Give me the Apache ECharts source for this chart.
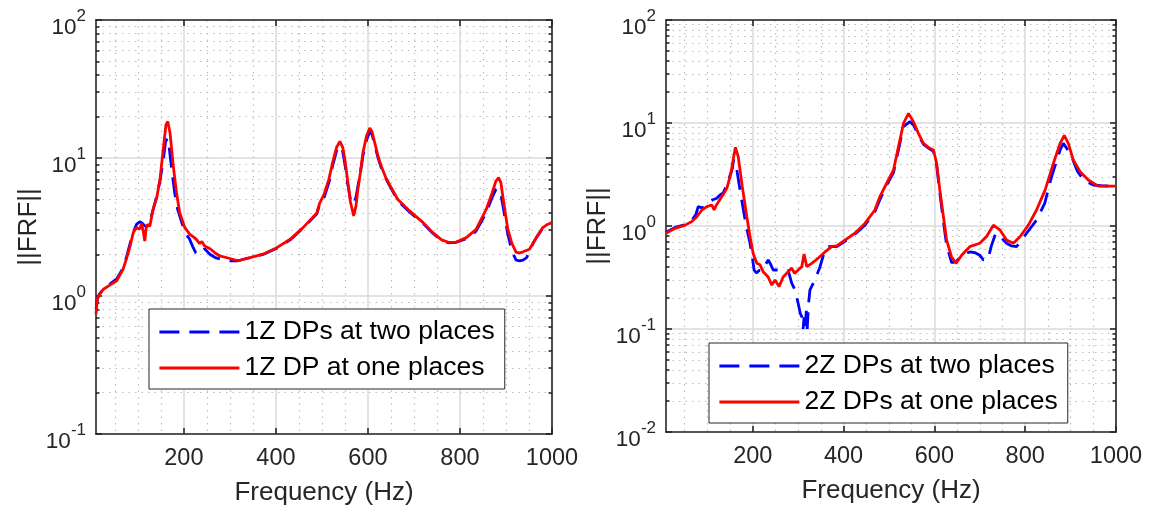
<!DOCTYPE html>
<html>
<head>
<meta charset="utf-8">
<script src="https://cdn.jsdelivr.net/npm/echarts@6/dist/echarts.min.js"></script>
<style>
  html, body { margin: 0; padding: 0; background: #ffffff; }
  #chart { width: 1149px; height: 514px; }
</style>
</head>
<body>
<div id="chart"></div>
<script>
// ---- FRF magnitude data, 1Z panel ----
const freq1Two = [9,12,16,25,39,54,68,75,83,90,97,104,110,116,121,126,133,141,148,155,160,164,168,174,180,186,191,198,205,212,220,226,232,238,245,257,268,280,300,318,344,372,402,431,459,489,495,505,515,524,532,539,545,550,556,562,568,574,578,584,589,597,604,609,615,622,629,638,647,665,691,720,741,760,775,792,814,835,857,870,878,883,889,893,899,904,913,922,930,937,945,951,960,966,980,990,1000];
const frf1Two = [0.8,0.95,1.03,1.12,1.22,1.33,1.6,1.9,2.4,2.9,3.3,3.45,3.35,3.2,3.4,3.5,4.2,5.3,6.8,9.5,13.0,13.9,12.0,8.0,5.6,4.3,3.8,3.2,2.8,2.6,2.25,2.05,2.0,2.1,2.2,2.0,1.9,1.85,1.8,1.8,1.9,2.0,2.22,2.55,3.1,3.95,4.6,5.2,6.6,9.0,11.3,12.3,11.2,9.0,6.5,5.0,4.6,5.2,6.2,8.0,10.3,13.5,15.5,14.8,12.3,10.0,8.5,7.2,6.3,4.9,4.05,3.35,2.85,2.52,2.43,2.45,2.6,2.95,4.0,5.2,5.9,6.0,5.4,4.6,3.5,2.8,2.1,1.82,1.8,1.82,1.9,2.1,2.45,2.65,3.1,3.3,3.4];

const freq1One = [9,12,16,25,39,54,68,75,83,90,97,104,108,112,115,118,121,126,133,141,148,155,161,165,170,177,184,191,202,213,222,228,234,239,245,257,268,278,300,318,344,372,402,431,459,489,495,505,515,524,532,539,545,550,556,562,569,574,578,584,589,597,604,609,615,622,629,638,647,665,691,720,741,760,775,792,814,835,857,870,878,884,889,893,899,904,913,922,930,937,951,960,966,980,990,1000];
const frf1One = [0.74,0.95,1.02,1.12,1.2,1.29,1.57,1.85,2.3,2.88,3.13,3.05,3.36,2.9,2.5,3.1,3.3,3.2,4.24,5.15,6.98,11.5,17.4,18.4,15.1,8.7,5.6,4.0,3.13,2.8,2.66,2.55,2.4,2.48,2.3,2.2,2.05,1.95,1.87,1.8,1.9,2.01,2.24,2.58,3.13,4.0,4.7,5.5,7.0,9.5,12.0,13.2,12.0,9.7,6.8,4.8,3.8,4.5,5.9,8.0,10.9,14.5,16.5,15.5,12.8,10.3,8.7,7.3,6.4,5.0,4.12,3.4,2.88,2.55,2.45,2.46,2.65,3.04,4.24,5.6,6.8,7.2,6.6,5.3,3.9,3.04,2.4,2.07,2.05,2.09,2.18,2.45,2.65,3.13,3.3,3.4];

// ---- FRF magnitude data, 2Z panel ----
const freq2Two = [9,29,51,65,75,80,88,95,105,112,120,128,135,143,150,155,158,162,165,172,182,188,194,199,203,208,214,222,228,234,240,245,255,265,278,286,293,300,305,308,311,313,315,318,320,323,326,337,348,359,367,385,403,425,447,469,480,495,510,521,532,546,554,565,576,587,598,605,612,620,627,638,648,660,678,690,700,708,718,725,735,744,759,770,781,803,825,843,858,877,884,890,900,915,930,950,970,1000];
const frf2Two = [0.87,0.97,1.03,1.12,1.3,1.54,1.5,1.55,1.7,1.8,1.85,2.0,2.1,2.5,3.1,3.6,4.4,4.0,3.5,2.24,1.23,0.9,0.68,0.5,0.374,0.35,0.37,0.37,0.42,0.468,0.42,0.374,0.374,0.38,0.37,0.278,0.24,0.178,0.14,0.132,0.1,0.13,0.098,0.15,0.1,0.178,0.24,0.3,0.4,0.585,0.63,0.63,0.71,0.83,1.02,1.38,1.8,2.5,3.3,5.5,9.2,10.3,9.6,7.6,6.2,5.7,5.3,3.9,2.1,1.1,0.65,0.44,0.45,0.52,0.56,0.55,0.52,0.47,0.47,0.63,0.85,0.8,0.68,0.64,0.63,0.85,1.14,1.66,3.0,5.47,6.35,5.8,5.0,3.4,2.75,2.5,2.45,2.44];

const freq2One = [9,29,51,65,77,88,99,110,115,120,132,143,152,158,162,168,177,187,194,201,209,216,223,234,242,249,258,267,278,286,292,300,308,313,319,330,344,359,374,385,403,425,447,469,480,495,510,521,532,543,554,565,576,587,598,605,612,620,627,638,648,660,678,700,715,730,745,759,774,789,807,825,844,862,877,886,895,906,921,939,961,980,1000];
const frf2One = [0.85,0.95,1.02,1.1,1.23,1.43,1.54,1.6,1.43,1.6,1.93,2.32,3.25,4.71,5.8,4.71,2.41,1.23,0.79,0.54,0.434,0.42,0.36,0.32,0.267,0.30,0.258,0.32,0.36,0.39,0.347,0.374,0.403,0.535,0.403,0.434,0.486,0.56,0.63,0.64,0.73,0.85,1.06,1.43,1.93,2.6,3.5,5.9,9.9,12.4,10.3,7.9,6.35,5.8,5.47,4.05,2.24,1.23,0.73,0.50,0.434,0.52,0.63,0.68,0.79,1.02,0.91,0.73,0.68,0.79,1.02,1.43,2.24,4.05,6.35,7.6,6.35,4.37,3.37,2.8,2.44,2.44,2.44];

// ---- legend entries ----
const names1 = ['1Z DPs at two places', '1Z DP at one places'];
const names2 = ['2Z DPs at two places', '2Z DPs at one places'];

// ---- axis ticks ----
const freqMin = 9, freqMax = 1000;
const xMajorTicks = [200, 400, 600, 800, 1000];
const xMinorTicks = [50, 100, 150, 250, 300, 350, 450, 500, 550, 650, 700, 750, 850, 900, 950];
const yDecades1 = [0.1, 1, 10, 100];
const yDecades2 = [0.01, 0.1, 1, 10, 100];

const FONT = '"Liberation Sans", Arial, Helvetica, sans-serif';
const INK = '#262626';
const MAJOR_GRID = '#dadada';
const MINOR_GRID = '#bdbdbd';
const BLUE = '#0000ff';
const RED = '#ff0000';
const DASH = [20, 10];

// minor log positions 2..9 within each decade
function logMinors(decades) {
  const out = [];
  for (let i = 0; i < decades.length - 1; i++) {
    for (let k = 2; k <= 9; k++) out.push(+(decades[i] * k).toPrecision(3));
  }
  return out;
}

function pairs(xs, ys) { return xs.map((x, i) => [x, ys[i]]); }

function powLabel(v) {
  const e = Math.round(Math.log10(v));
  return '{b|10}{s|' + e + '}';
}

const axisLineStyle = { color: INK, width: 1.6 };

function xAxesFor(gi) {
  return [
    { // bottom, labelled
      type: 'value', gridIndex: gi, min: freqMin, max: freqMax, position: 'bottom',
      axisLine: { show: true, onZero: false, lineStyle: axisLineStyle },
      axisTick: { show: true, inside: true, length: 6, customValues: xMajorTicks, lineStyle: axisLineStyle },
      axisLabel: { show: true, customValues: xMajorTicks, margin: 13, fontSize: 23.5, color: INK, fontFamily: FONT,
                   formatter: v => String(v) },
      splitLine: { show: true, lineStyle: { color: MAJOR_GRID, width: 1.5 } },
      name: 'Frequency (Hz)', nameLocation: 'middle', nameGap: 46,
      nameTextStyle: { fontSize: 26, color: INK, fontFamily: FONT }
    },
    { // top border
      type: 'value', gridIndex: gi, min: freqMin, max: freqMax, position: 'top',
      axisLine: { show: true, onZero: false, lineStyle: axisLineStyle },
      axisTick: { show: true, inside: true, length: 6, customValues: xMajorTicks, lineStyle: axisLineStyle },
      axisLabel: { show: false }, splitLine: { show: false }
    },
    { // minor dotted grid
      type: 'value', gridIndex: gi, min: freqMin, max: freqMax, position: 'bottom',
      axisLine: { show: false, onZero: false },
      axisTick: { show: false, customValues: xMinorTicks },
      axisLabel: { show: false },
      splitLine: { show: true, lineStyle: { color: MINOR_GRID, width: 1.2, type: [1.5, 5] } }
    }
  ];
}

function yAxesFor(gi, decades, nameGap) {
  const lo = decades[0], hi = decades[decades.length - 1];
  const minors = logMinors(decades);
  const base = { type: 'log', logBase: 10, gridIndex: gi, min: lo, max: hi };
  return [
    Object.assign({}, base, { // left, labelled
      position: 'left',
      axisLine: { show: true, onZero: false, lineStyle: axisLineStyle },
      axisTick: { show: true, inside: true, length: 6, customValues: decades, lineStyle: axisLineStyle },
      axisLabel: {
        show: true, customValues: decades, margin: 10, formatter: powLabel,
        rich: {
          b: { fontSize: 22.5, color: INK, fontFamily: FONT, padding: [16, 0, 0, 0] },
          s: { fontSize: 17, color: INK, fontFamily: FONT, padding: [0, 0, 8, 0] }
        }
      },
      splitLine: { show: true, lineStyle: { color: MAJOR_GRID, width: 1.5 } },
      name: '||FRF||', nameLocation: 'middle', nameGap: nameGap, nameRotate: 90,
      nameTextStyle: { fontSize: 26, color: INK, fontFamily: FONT }
    }),
    Object.assign({}, base, { // left minor ticks + dotted grid
      position: 'left',
      axisLine: { show: false, onZero: false },
      axisTick: { show: true, inside: true, length: 3.5, customValues: minors, lineStyle: axisLineStyle },
      axisLabel: { show: false },
      splitLine: { show: true, lineStyle: { color: MINOR_GRID, width: 1.2, type: [1.5, 5] } }
    }),
    Object.assign({}, base, { // right border
      position: 'right',
      axisLine: { show: true, onZero: false, lineStyle: axisLineStyle },
      axisTick: { show: true, inside: true, length: 6, customValues: decades, lineStyle: axisLineStyle },
      axisLabel: { show: false }, splitLine: { show: false }
    }),
    Object.assign({}, base, { // right minor ticks
      position: 'right',
      axisLine: { show: false, onZero: false },
      axisTick: { show: true, inside: true, length: 3.5, customValues: minors, lineStyle: axisLineStyle },
      axisLabel: { show: false }, splitLine: { show: false }
    })
  ];
}

function lineSeries(name, xi, yi, data, color, dashed) {
  return {
    name: name, type: 'line', xAxisIndex: xi, yAxisIndex: yi,
    data: data, symbol: 'none', showSymbol: false, smooth: false,
    lineStyle: { color: color, width: 2.8, type: dashed ? DASH : 'solid' },
    itemStyle: { color: color },
    emphasis: { disabled: true }
  };
}

function legendFor(names, left, top) {
  return {
    orient: 'vertical', left: left, top: top, data: names,
    // a flat icon box keeps only the line sample visible
    itemWidth: 80, itemHeight: 1, itemGap: 6,
    padding: [8, 10, 6, 9],
    backgroundColor: '#ffffff', borderColor: INK, borderWidth: 1, borderRadius: 0,
    selectedMode: false,
    itemStyle: { opacity: 0 },
    lineStyle: { width: 2.8 },
    textStyle: { fontSize: 26.5, color: '#000000', fontFamily: FONT, lineHeight: 30 }
  };
}

const option = {
  animation: false,
  backgroundColor: '#ffffff',
  textStyle: { fontFamily: FONT },
  grid: [
    { left: 96, top: 20, width: 456, height: 414 },
    { left: 666, top: 20, width: 450, height: 412 }
  ],
  xAxis: [].concat(xAxesFor(0), xAxesFor(1)),
  yAxis: [].concat(yAxesFor(0, yDecades1, 53), yAxesFor(1, yDecades2, 55)),
  legend: [legendFor(names1, 149, 309), legendFor(names2, 709, 343)],
  series: [
    lineSeries(names1[0], 0, 0, pairs(freq1Two, frf1Two), BLUE, true),
    lineSeries(names1[1], 0, 0, pairs(freq1One, frf1One), RED, false),
    lineSeries(names2[0], 3, 4, pairs(freq2Two, frf2Two), BLUE, true),
    lineSeries(names2[1], 3, 4, pairs(freq2One, frf2One), RED, false)
  ]
};

const chart = echarts.init(document.getElementById('chart'), null, { renderer: 'canvas' });
chart.setOption(option);
</script>
</body>
</html>
